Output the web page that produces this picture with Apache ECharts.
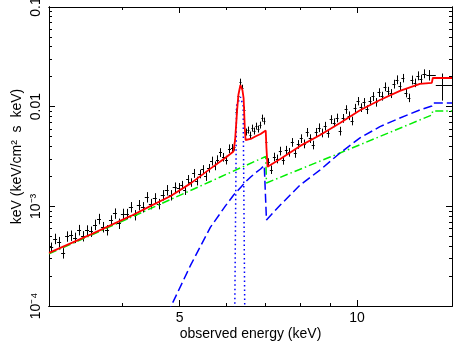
<!DOCTYPE html>
<html><head><meta charset="utf-8">
<script src="https://cdn.jsdelivr.net/npm/echarts@6/dist/echarts.min.js"></script>
<style>html,body{margin:0;padding:0;background:#fff}#c{width:453px;height:343px}</style>
</head><body><div id="c"></div>
<script>
// observed data (bin centres in keV, flux, 1-sigma error)
const dataE = [3.025,3.073,3.121,3.170,3.220,3.270,3.322,3.374,3.427,3.481,3.535,3.591,3.647,3.705,3.763,3.822,3.882,3.943,4.005,4.068,4.132,4.197,4.262,4.329,4.397,4.467,4.537,4.608,4.680,4.754,4.828,4.904,4.981,
5.039,5.098,5.158,5.219,5.280,5.342,5.405,5.468,5.532,5.597,5.663,5.730,5.797,5.865,5.934,6.004,6.074,6.146,
6.195,6.244,6.293,6.342,6.392,6.442,6.492,6.543,6.594,6.646,6.698,6.750,6.803,6.856,6.910,6.964,7.019,
7.073,7.156,7.240,7.325,7.411,7.498,7.586,7.675,7.765,7.857,7.949,8.043,8.137,8.233,8.330,8.428,8.527,8.627,8.729,8.831,8.935,9.040,9.146,9.254,9.363,9.473,9.584,9.697,9.811,9.927,10.043,10.161,10.281,10.402,10.524,10.648,10.773,10.900,11.028,11.158,11.289,11.422,11.556,11.692,11.830,11.969,12.110,12.252,12.397,12.542,12.690,12.839,12.990,13.25,13.97];
const dataF = [3.87e-4,4.74e-4,4.40e-4,3.40e-4,5.01e-4,5.11e-4,4.86e-4,5.81e-4,5.04e-4,5.76e-4,5.60e-4,6.56e-4,7.51e-4,6.22e-4,5.79e-4,7.26e-4,8.51e-4,6.73e-4,8.45e-4,8.42e-4,9.86e-4,8.20e-4,1.033e-3,9.86e-4,1.24e-3,1.06e-3,1.21e-3,1.06e-3,1.30e-3,1.46e-3,1.30e-3,1.55e-3,1.53e-3,
1.64e-3,1.45e-3,1.87e-3,1.74e-3,2.15e-3,1.80e-3,2.12e-3,2.35e-3,2.00e-3,2.42e-3,2.86e-3,2.56e-3,2.95e-3,3.48e-3,3.12e-3,2.92e-3,3.80e-3,3.83e-3,
3.94e-3,8.85e-3,1.28e-2,1.77e-2,1.54e-2,9.27e-3,5.58e-3,5.84e-3,5.20e-3,6.11e-3,5.71e-3,6.40e-3,5.98e-3,6.55e-3,7.70e-3,7.19e-3,4.43e-3,
2.76e-3,2.34e-3,3.14e-3,3.00e-3,3.60e-3,2.91e-3,3.67e-3,3.50e-3,4.40e-3,3.41e-3,4.20e-3,4.80e-3,4.25e-3,5.55e-3,4.80e-3,4.14e-3,5.55e-3,6.17e-3,5.47e-3,6.40e-3,5.42e-3,7.46e-3,6.93e-3,7.74e-3,5.71e-3,7.67e-3,9.40e-3,8.14e-3,7.22e-3,9.70e-3,1.14e-2,9.82e-3,1.11e-2,9.37e-3,1.14e-2,1.27e-2,1.11e-2,1.39e-2,1.28e-2,1.59e-2,1.44e-2,1.36e-2,1.69e-2,1.87e-2,1.61e-2,1.94e-2,1.38e-2,1.23e-2,1.86e-2,1.74e-2,2.05e-2,1.90e-2,2.15e-2,2.08e-2,1.65e-2];
const dataErr = [4.6e-5,5.7e-5,5.3e-5,4.1e-5,6.0e-5,6.1e-5,5.8e-5,7.0e-5,6.0e-5,6.9e-5,6.7e-5,7.9e-5,9.0e-5,7.5e-5,6.9e-5,8.7e-5,1.02e-4,8.1e-5,1.01e-4,1.01e-4,1.18e-4,9.8e-5,1.24e-4,1.18e-4,1.49e-4,1.27e-4,1.45e-4,1.27e-4,1.56e-4,1.75e-4,1.56e-4,1.86e-4,1.84e-4,
1.6e-4,1.5e-4,1.9e-4,1.7e-4,2.2e-4,1.8e-4,2.1e-4,2.4e-4,2.0e-4,2.4e-4,2.9e-4,2.6e-4,3.0e-4,3.5e-4,3.1e-4,2.9e-4,3.8e-4,3.8e-4,
3.2e-4,7.1e-4,1.0e-3,1.4e-3,1.2e-3,7.4e-4,4.5e-4,4.7e-4,4.2e-4,4.9e-4,4.6e-4,5.1e-4,4.8e-4,5.2e-4,6.2e-4,5.8e-4,3.5e-4,
2.8e-4,2.3e-4,3.1e-4,3.0e-4,3.6e-4,2.9e-4,3.7e-4,3.5e-4,4.4e-4,3.4e-4,4.2e-4,4.8e-4,4.3e-4,5.6e-4,4.8e-4,4.1e-4,5.6e-4,6.2e-4,5.5e-4,6.4e-4,5.4e-4,7.5e-4,6.9e-4,7.7e-4,5.7e-4,7.7e-4,9.4e-4,8.1e-4,7.2e-4,9.7e-4,1.1e-3,9.8e-4,1.1e-3,9.4e-4,1.1e-3,1.3e-3,1.1e-3,1.4e-3,1.3e-3,1.6e-3,1.4e-3,1.4e-3,1.7e-3,1.9e-3,1.6e-3,1.9e-3,1.4e-3,1.2e-3,1.9e-3,1.7e-3,2.1e-3,1.9e-3,2.2e-3,2.5e-3,5.0e-3];

// total model (red)
const redE = [3.0,3.535,4.132,4.467,4.828,5.219,5.64,5.98,6.17,6.21,6.26,6.29,6.34,6.39,6.42,6.45,6.47,6.60,6.72,6.86,7.00,7.02,7.05,7.41,8.01,8.66,9.36,10.12,10.94,11.83,12.79,13.40,13.45,14.5];
const redF = [3.41e-4,5.23e-4,8.01e-4,1.01e-3,1.27e-3,1.70e-3,2.39e-3,3.07e-3,3.55e-3,4.63e-3,9.27e-3,1.31e-2,1.65e-2,1.47e-2,1.22e-2,6.11e-3,4.63e-3,4.74e-3,5.02e-3,5.32e-3,5.77e-3,3.85e-3,2.49e-3,2.99e-3,4.04e-3,5.20e-3,6.86e-3,9.2e-3,1.167e-2,1.44e-2,1.69e-2,1.73e-2,1.94e-2,1.94e-2];
// power-law component (green)
const greenE = [3.0,4.132,5.64,7.00,7.02,9.36,13.40,13.45,14.5];
const greenF = [3.33e-4,7.74e-4,1.777e-3,3.165e-3,1.717e-3,3.43e-3,8.25e-3,9.05e-3,9.05e-3];
// reflection component (blue dashed)
const blueE = [4.467,4.828,5.219,5.64,5.98,6.17,6.24,6.34,6.49,6.60,6.72,6.86,6.96,7.00,7.02,7.07,7.41,8.01,8.66,9.36,10.12,10.94,11.83,12.79,13.40,13.45,14.5];
const blueF = [3.63e-5,9.8e-5,2.57e-4,6.18e-4,1.01e-3,1.29e-3,1.39e-3,1.54e-3,1.79e-3,1.97e-3,2.16e-3,2.37e-3,2.57e-3,2.64e-3,7.30e-4,7.65e-4,1.03e-3,1.64e-3,2.32e-3,3.43e-3,4.86e-3,6.30e-3,7.70e-3,9.27e-3,1.016e-2,1.09e-2,1.09e-2];
// iron line component (blue dotted)
const lineE = [6.14,6.202,6.244,6.342,6.409,6.449,6.51];
const lineF = [2e-5,9e-5,1.02e-2,1.25e-2,1.02e-2,9e-5,2e-5];

const xMajorTicks = [5, 10];
const xMinorTicks = [4, 6, 7, 8, 9];
const yMajorTicks = [1e-4, 1e-3, 1e-2, 0.1];
const yTickLabels = ['10\u207B\u2074', '10\u207B\u00B3', '0.01', '0.1'];
const yMinorTicks = [2e-4,3e-4,4e-4,5e-4,6e-4,7e-4,8e-4,9e-4,2e-3,3e-3,4e-3,5e-3,6e-3,7e-3,8e-3,9e-3,0.02,0.03,0.04,0.05,0.06,0.07,0.08,0.09];
const xTitle = 'observed energy (keV)';
const yTitle = 'keV (keV/cm\u00B2  s  keV)';

const FONT = "'Liberation Sans', Arial, Helvetica, sans-serif";
const X_MIN = 3, X_MAX = 14.5, Y_MIN = 1e-4, Y_MAX = 0.1;

const pairs = (xs, ys) => xs.map((x, i) => [x, ys[i]]);
const n = dataE.length;
const dataRows = dataE.map((e, i) => {
  const lo = i === 0 ? X_MIN : (dataE[i - 1] + e) / 2;
  const hi = i === n - 1 ? X_MAX : (e + dataE[i + 1]) / 2;
  return [e, dataF[i], lo, hi, dataErr[i]];
});

function xAxisDef(pos, ticks, len, labels) {
  return {
    type: 'log', logBase: 10, min: X_MIN, max: X_MAX, position: pos,
    axisLine: { show: true, onZero: false, lineStyle: { color: '#000', width: 1 } },
    axisTick: ticks ? { show: true, inside: true, length: len, customValues: ticks, lineStyle: { color: '#000', width: 1 } } : { show: false },
    axisLabel: labels ? { show: true, customValues: labels, color: '#000', fontSize: 14, fontFamily: FONT, margin: 5 } : { show: false },
    splitLine: { show: false }, minorTick: { show: false }
  };
}
function yAxisDef(pos, ticks, len, labels) {
  return {
    type: 'log', logBase: 10, min: Y_MIN, max: Y_MAX, position: pos,
    axisLine: { show: true, onZero: false, lineStyle: { color: '#000', width: 1 } },
    axisTick: ticks ? { show: true, inside: true, length: len, customValues: ticks, lineStyle: { color: '#000', width: 1 } } : { show: false },
    axisLabel: labels ? {
      show: true, customValues: labels, color: '#000', fontSize: 14, fontFamily: FONT, margin: 6, rotate: 90,
      formatter: v => {
        const i = yMajorTicks.findIndex(t => Math.abs(Math.log10(t) - Math.log10(v)) < 1e-6);
        return i >= 0 ? yTickLabels[i] : '';
      }
    } : { show: false },
    splitLine: { show: false }, minorTick: { show: false }
  };
}

// label-only axes carry the titles; tick-only axes carry the tick marks
const xMain = xAxisDef('bottom', null, 0, xMajorTicks);
xMain.name = xTitle; xMain.nameLocation = 'middle'; xMain.nameGap = 21; xMain.nameMoveOverlap = false;
xMain.nameTextStyle = { color: '#000', fontSize: 14, fontFamily: FONT };
const yMain = yAxisDef('left', null, 0, yMajorTicks);
yMain.name = yTitle; yMain.nameLocation = 'middle'; yMain.nameGap = 25; yMain.nameMoveOverlap = false;
yMain.nameTextStyle = { color: '#000', fontSize: 14, fontFamily: FONT };

const chart = echarts.init(document.getElementById('c'), null, { renderer: 'canvas' });
chart.setOption({
  animation: false,
  backgroundColor: '#fff',
  grid: { left: 49, right: 1, top: 7, bottom: 37, containLabel: false, outerBoundsMode: 'none' },
  xAxis: [xMain,
    xAxisDef('bottom', xMajorTicks, 6, null), xAxisDef('bottom', xMinorTicks, 3, null),
    xAxisDef('top', xMajorTicks, 6, null), xAxisDef('top', xMinorTicks, 3, null)],
  yAxis: [yMain,
    yAxisDef('left', yMajorTicks, 6, null), yAxisDef('left', yMinorTicks, 3, null),
    yAxisDef('right', yMajorTicks, 6, null), yAxisDef('right', yMinorTicks, 3, null)],
  series: [
    {
      type: 'custom', name: 'data', xAxisIndex: 0, yAxisIndex: 0, clip: true, z: 1,
      encode: { x: 0, y: 1 },
      data: dataRows,
      renderItem: (params, api) => {
        const e = api.value(0), f = api.value(1), lo = api.value(2), hi = api.value(3), er = api.value(4);
        const c = api.coord([e, f]);
        const cl = api.coord([lo, f]), ch = api.coord([hi, f]);
        const ct = api.coord([e, f + er]), cb = api.coord([e, f - er]);
        const xm = Math.round(c[0]) + 0.5, ym = Math.round(c[1]) + 0.5;
        return { type: 'group', children: [
          { type: 'line', shape: { x1: cl[0], y1: ym, x2: ch[0], y2: ym }, style: { stroke: '#000', lineWidth: 1 } },
          { type: 'line', shape: { x1: xm, y1: ct[1], x2: xm, y2: cb[1] }, style: { stroke: '#000', lineWidth: 1 } }
        ] };
      }
    },
    { type: 'line', name: 'powerlaw', data: pairs(greenE, greenF), symbol: 'none', z: 2, clip: true,
      lineStyle: { color: '#00ee00', width: 1.5, type: [8, 3, 1.5, 3] } },
    { type: 'line', name: 'reflection', data: pairs(blueE, blueF), symbol: 'none', z: 2, clip: true,
      lineStyle: { color: '#0000ff', width: 1.5, type: [9, 4] } },
    { type: 'line', name: 'line', data: pairs(lineE, lineF), symbol: 'none', z: 2, clip: true,
      lineStyle: { color: '#0000ff', width: 1.5, type: [1.5, 3] } },
    { type: 'line', name: 'model', data: pairs(redE, redF), symbol: 'none', z: 3, clip: true,
      lineStyle: { color: '#ff0000', width: 1.8 } }
  ]
});
</script></body></html>
